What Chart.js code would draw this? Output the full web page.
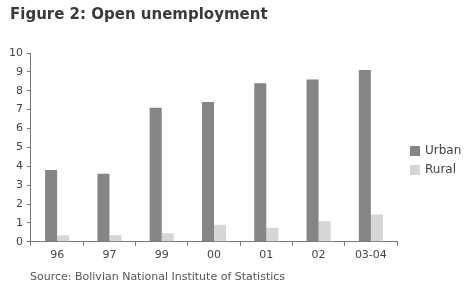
<!DOCTYPE html>
<html><head><meta charset="utf-8">
<script src="https://cdn.jsdelivr.net/npm/chart.js@4/dist/chart.umd.min.js"></script>
<style>
html,body{margin:0;padding:0;background:#fff;}
#wrap{position:relative;width:466px;height:299px;}
#c{position:absolute;left:0;top:0;}
#title{position:absolute;left:10px;top:5px;font:bold 15px "DejaVu Sans",sans-serif;color:#3a3a3a;}
#src{position:absolute;left:30px;top:270px;font:11px "DejaVu Sans",sans-serif;color:#555;}
</style></head>
<body><div id="wrap">
<canvas id="c" width="466" height="299"></canvas>
<div id="title">Figure 2: Open unemployment</div>
<div id="src">Source: Bolivian National Institute of Statistics</div>
</div>
<script>
const categories = ["96","97","99","00","01","02","03-04"];
const urban = [3.8,3.6,7.1,7.4,8.4,8.6,9.1];
const rural = [0.35,0.35,0.45,0.9,0.75,1.1,1.45];
const yTicks = [0,1,2,3,4,5,6,7,8,9,10];

const legendPlugin = {
  id:'sideLegend',
  afterDraw(chart){
    const ctx = chart.ctx;
    const x = 410, ys=[151,170];
    ctx.save();
    ctx.font = '12px "DejaVu Sans", sans-serif';
    ctx.textBaseline='middle';
    chart.data.datasets.forEach((ds,i)=>{
      ctx.fillStyle = ds.backgroundColor;
      ctx.fillRect(x, ys[i]-5, 10, 10);
      ctx.fillStyle = '#444';
      ctx.fillText(ds.label, x+15, ys[i]);
    });
    ctx.restore();
  }
};

new Chart(document.getElementById('c'), {
  type:'bar',
  data:{labels:categories, datasets:[
    {label:'Urban', data:urban, backgroundColor:'#858585', categoryPercentage:0.46, barPercentage:1.0},
    {label:'Rural', data:rural, backgroundColor:'#d6d6d6', categoryPercentage:0.46, barPercentage:1.0}
  ]},
  options:{
    responsive:false, animation:false,
    layout:{padding:{left:5,right:69,top:53,bottom:34}},
    plugins:{legend:{display:false}, tooltip:{enabled:false}, title:{display:false}},
    scales:{
      x:{grid:{display:true, drawOnChartArea:false, offset:true, tickLength:4, color:'#777'},
         border:{color:'#777'},
         ticks:{color:'#444', font:{family:'DejaVu Sans', size:11}, padding:3}},
      y:{min:0,max:10,
         afterBuildTicks(s){ s.ticks = yTicks.map(v=>({value:v})); },
         grid:{display:true, drawOnChartArea:false, tickLength:4, color:'#777'},
         border:{color:'#777'},
         ticks:{color:'#444', font:{family:'DejaVu Sans', size:11}, padding:4}}
    }
  },
  plugins:[legendPlugin]
});
</script>
</body></html>
